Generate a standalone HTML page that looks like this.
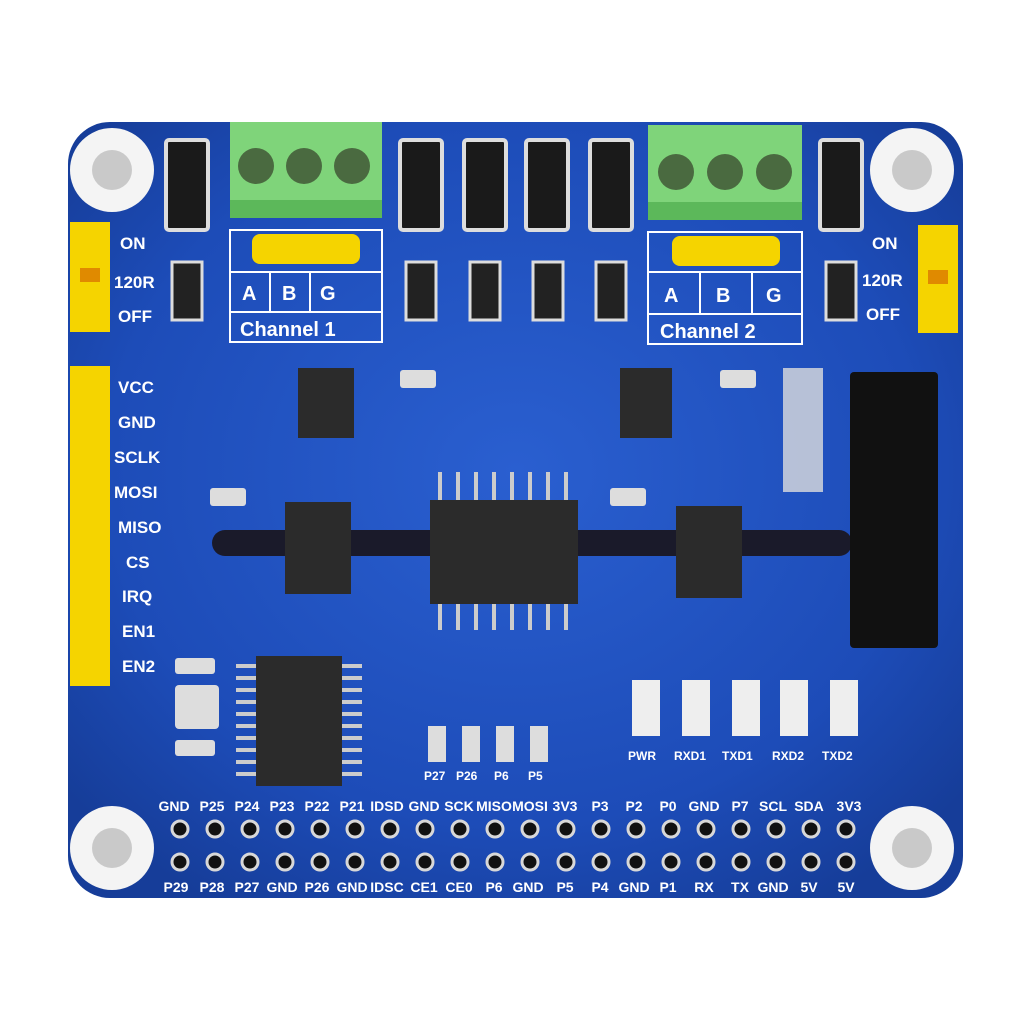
<!DOCTYPE html>
<html><head><style>
html,body{margin:0;padding:0;background:#fff;}
svg{display:block}
text{font-family:"Liberation Sans",sans-serif;font-weight:bold;fill:#fff}
</style></head><body>
<svg width="1024" height="1024" viewBox="0 0 1024 1024" xmlns="http://www.w3.org/2000/svg">
<defs>
<radialGradient id="bg" cx="50%" cy="45%" r="65%">
<stop offset="0" stop-color="#2a5fd0"/><stop offset="0.7" stop-color="#1d4cb8"/><stop offset="1" stop-color="#163d99"/>
</radialGradient>
</defs>
<rect x="68" y="122" width="895" height="776" rx="42" fill="url(#bg)"/>
<!-- mounting holes -->
<g>
<circle cx="112" cy="170" r="42" fill="#f4f4f4"/><circle cx="112" cy="170" r="20" fill="#c9c9c9"/>
<circle cx="912" cy="170" r="42" fill="#f4f4f4"/><circle cx="912" cy="170" r="20" fill="#c9c9c9"/>
<circle cx="112" cy="848" r="42" fill="#f4f4f4"/><circle cx="112" cy="848" r="20" fill="#c9c9c9"/>
<circle cx="912" cy="848" r="42" fill="#f4f4f4"/><circle cx="912" cy="848" r="20" fill="#c9c9c9"/>
</g>
<!-- terminal blocks -->
<rect x="230" y="122" width="152" height="96" fill="#7fd47a"/>
<rect x="230" y="200" width="152" height="18" fill="#5cb85a"/>
<circle cx="256" cy="166" r="18" fill="#4a6a40"/><circle cx="304" cy="166" r="18" fill="#4a6a40"/><circle cx="352" cy="166" r="18" fill="#4a6a40"/>
<rect x="648" y="125" width="154" height="95" fill="#7fd47a"/>
<rect x="648" y="202" width="154" height="18" fill="#5cb85a"/>
<circle cx="676" cy="172" r="18" fill="#4a6a40"/><circle cx="725" cy="172" r="18" fill="#4a6a40"/><circle cx="774" cy="172" r="18" fill="#4a6a40"/>
<!-- channel label boxes -->
<g fill="none" stroke="#fff" stroke-width="2">
<rect x="230" y="230" width="152" height="112"/><line x1="230" y1="272" x2="382" y2="272"/><line x1="230" y1="312" x2="382" y2="312"/>
<line x1="270" y1="272" x2="270" y2="312"/><line x1="310" y1="272" x2="310" y2="312"/>
<rect x="648" y="232" width="154" height="112"/><line x1="648" y1="272" x2="802" y2="272"/><line x1="648" y1="314" x2="802" y2="314"/>
<line x1="700" y1="272" x2="700" y2="314"/><line x1="752" y1="272" x2="752" y2="314"/>
</g>
<g fill="#f5d400"><rect x="252" y="234" width="108" height="30" rx="8"/><rect x="672" y="236" width="108" height="30" rx="8"/></g>
<g font-size="20"><text x="242" y="300">A</text><text x="282" y="300">B</text><text x="320" y="300">G</text>
<text x="664" y="302">A</text><text x="716" y="302">B</text><text x="766" y="302">G</text>
<text x="240" y="336" font-size="20">Channel 1</text><text x="660" y="338" font-size="20">Channel 2</text></g>
<!-- TVS diodes -->
<g fill="#1a1a1a" stroke="#ddd" stroke-width="4">
<rect x="166" y="140" width="42" height="90" rx="3"/>
<rect x="400" y="140" width="42" height="90" rx="3"/>
<rect x="464" y="140" width="42" height="90" rx="3"/>
<rect x="526" y="140" width="42" height="90" rx="3"/>
<rect x="590" y="140" width="42" height="90" rx="3"/>
<rect x="820" y="140" width="42" height="90" rx="3"/>
</g>
<!-- small jumpers/resistors -->
<g fill="#222" stroke="#ddd" stroke-width="3">
<rect x="172" y="262" width="30" height="58"/><rect x="406" y="262" width="30" height="58"/><rect x="470" y="262" width="30" height="58"/>
<rect x="533" y="262" width="30" height="58"/><rect x="596" y="262" width="30" height="58"/><rect x="826" y="262" width="30" height="58"/>
</g>
<!-- jumpers yellow -->
<rect x="70" y="222" width="40" height="110" fill="#f5d400"/>
<rect x="918" y="225" width="40" height="108" fill="#f5d400"/>
<rect x="80" y="268" width="20" height="14" fill="#e08a00"/><rect x="928" y="270" width="20" height="14" fill="#e08a00"/>
<g font-size="17"><text x="120" y="249">ON</text><text x="114" y="288">120R</text><text x="118" y="322">OFF</text>
<text x="872" y="249">ON</text><text x="862" y="286">120R</text><text x="866" y="320">OFF</text></g>
<!-- left header -->
<rect x="70" y="366" width="40" height="320" fill="#f5d400"/>
<g font-size="17"><text x="118" y="393">VCC</text><text x="118" y="428">GND</text><text x="114" y="463">SCLK</text><text x="114" y="498">MOSI</text>
<text x="118" y="533">MISO</text><text x="126" y="568">CS</text><text x="122" y="602">IRQ</text><text x="122" y="637">EN1</text><text x="122" y="672">EN2</text></g>
<!-- slot -->
<rect x="212" y="530" width="640" height="26" rx="13" fill="#1a1a2a"/>
<!-- relay -->
<rect x="850" y="372" width="88" height="276" rx="4" fill="#111"/>
<!-- chips -->
<g fill="#2b2b2b">
<rect x="298" y="368" width="56" height="70"/><rect x="620" y="368" width="52" height="70"/>
<rect x="430" y="500" width="148" height="104"/>
<rect x="285" y="502" width="66" height="92"/><rect x="676" y="506" width="66" height="92"/>
<rect x="256" y="656" width="86" height="130"/>
</g>
<g stroke="#ccc" stroke-width="4">
<path d="M440 472v28M458 472v28M476 472v28M494 472v28M512 472v28M530 472v28M548 472v28M566 472v28"/>
<path d="M440 604v26M458 604v26M476 604v26M494 604v26M512 604v26M530 604v26M548 604v26M566 604v26"/>
<path d="M236 666h20M236 678h20M236 690h20M236 702h20M236 714h20M236 726h20M236 738h20M236 750h20M236 762h20M236 774h20"/>
<path d="M342 666h20M342 678h20M342 690h20M342 702h20M342 714h20M342 726h20M342 738h20M342 750h20M342 762h20M342 774h20"/>
</g>
<!-- small parts -->
<g fill="#ddd">
<rect x="210" y="488" width="36" height="18" rx="3"/><rect x="610" y="488" width="36" height="18" rx="3"/>
<rect x="400" y="370" width="36" height="18" rx="3"/><rect x="720" y="370" width="36" height="18" rx="3"/>
<rect x="175" y="685" width="44" height="44" rx="4"/><rect x="175" y="658" width="40" height="16" rx="3"/>
<rect x="175" y="740" width="40" height="16" rx="3"/>
</g>
<rect x="783" y="368" width="40" height="124" fill="#ddd" opacity="0.8"/>
<!-- LEDs -->
<g fill="#eee"><rect x="632" y="680" width="28" height="56"/><rect x="682" y="680" width="28" height="56"/><rect x="732" y="680" width="28" height="56"/>
<rect x="780" y="680" width="28" height="56"/><rect x="830" y="680" width="28" height="56"/></g>
<g font-size="12"><text x="628" y="760">PWR</text><text x="674" y="760">RXD1</text><text x="722" y="760">TXD1</text><text x="772" y="760">RXD2</text><text x="822" y="760">TXD2</text>
<text x="424" y="780">P27</text><text x="456" y="780">P26</text><text x="494" y="780">P6</text><text x="528" y="780">P5</text></g>
<g fill="#ddd"><rect x="428" y="726" width="18" height="36"/><rect x="462" y="726" width="18" height="36"/><rect x="496" y="726" width="18" height="36"/><rect x="530" y="726" width="18" height="36"/></g>
<!-- header pins -->
<g id="pins" fill="#111" stroke="#d8d8d8" stroke-width="3">
<circle cx="180" cy="829" r="8"/><circle cx="215" cy="829" r="8"/><circle cx="250" cy="829" r="8"/><circle cx="285" cy="829" r="8"/><circle cx="320" cy="829" r="8"/>
<circle cx="355" cy="829" r="8"/><circle cx="390" cy="829" r="8"/><circle cx="425" cy="829" r="8"/><circle cx="460" cy="829" r="8"/><circle cx="495" cy="829" r="8"/>
<circle cx="530" cy="829" r="8"/><circle cx="566" cy="829" r="8"/><circle cx="601" cy="829" r="8"/><circle cx="636" cy="829" r="8"/><circle cx="671" cy="829" r="8"/>
<circle cx="706" cy="829" r="8"/><circle cx="741" cy="829" r="8"/><circle cx="776" cy="829" r="8"/><circle cx="811" cy="829" r="8"/><circle cx="846" cy="829" r="8"/>
<circle cx="180" cy="862" r="8"/><circle cx="215" cy="862" r="8"/><circle cx="250" cy="862" r="8"/><circle cx="285" cy="862" r="8"/><circle cx="320" cy="862" r="8"/>
<circle cx="355" cy="862" r="8"/><circle cx="390" cy="862" r="8"/><circle cx="425" cy="862" r="8"/><circle cx="460" cy="862" r="8"/><circle cx="495" cy="862" r="8"/>
<circle cx="530" cy="862" r="8"/><circle cx="566" cy="862" r="8"/><circle cx="601" cy="862" r="8"/><circle cx="636" cy="862" r="8"/><circle cx="671" cy="862" r="8"/>
<circle cx="706" cy="862" r="8"/><circle cx="741" cy="862" r="8"/><circle cx="776" cy="862" r="8"/><circle cx="811" cy="862" r="8"/><circle cx="846" cy="862" r="8"/>
</g>
<g font-size="14" text-anchor="middle">
<text x="174" y="811">GND</text><text x="212" y="811">P25</text><text x="247" y="811">P24</text><text x="282" y="811">P23</text><text x="317" y="811">P22</text>
<text x="352" y="811">P21</text><text x="387" y="811">IDSD</text><text x="424" y="811">GND</text><text x="459" y="811">SCK</text><text x="494" y="811">MISO</text>
<text x="530" y="811">MOSI</text><text x="565" y="811">3V3</text><text x="600" y="811">P3</text><text x="634" y="811">P2</text><text x="668" y="811">P0</text>
<text x="704" y="811">GND</text><text x="740" y="811">P7</text><text x="773" y="811">SCL</text><text x="809" y="811">SDA</text><text x="849" y="811">3V3</text>
<text x="176" y="892">P29</text><text x="212" y="892">P28</text><text x="247" y="892">P27</text><text x="282" y="892">GND</text><text x="317" y="892">P26</text>
<text x="352" y="892">GND</text><text x="387" y="892">IDSC</text><text x="424" y="892">CE1</text><text x="459" y="892">CE0</text><text x="494" y="892">P6</text>
<text x="528" y="892">GND</text><text x="565" y="892">P5</text><text x="600" y="892">P4</text><text x="634" y="892">GND</text><text x="668" y="892">P1</text>
<text x="704" y="892">RX</text><text x="740" y="892">TX</text><text x="773" y="892">GND</text><text x="809" y="892">5V</text><text x="846" y="892">5V</text>
</g>
</svg>
</body></html>
